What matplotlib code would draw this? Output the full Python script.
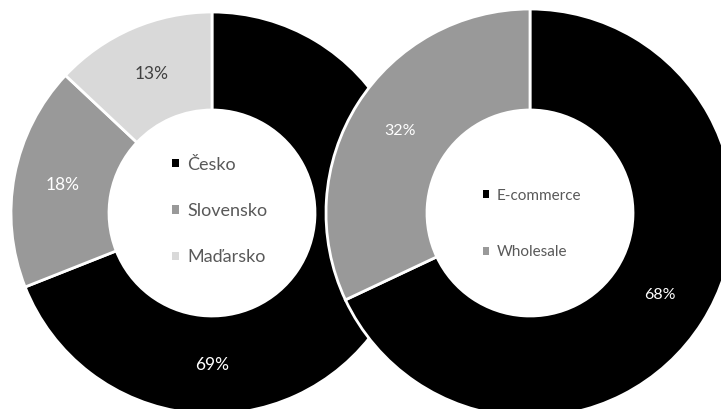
import matplotlib.pyplot as plt
import numpy as np

# data
countries = ["Česko", "Slovensko", "Maďarsko"]
country_share = [69, 18, 13]
country_colors = ["#000000", "#999999", "#d9d9d9"]
country_label_colors = ["white", "white", "#404040"]

channels = ["E-commerce", "Wholesale"]
channel_share = [68, 32]
channel_colors = ["#000000", "#999999"]
channel_label_colors = ["white", "white"]

plt.rcParams['font.family'] = ['Lato', 'DejaVu Sans']

fig = plt.figure(figsize=(7.21, 4.09), dpi=100)
ax = fig.add_axes([0, 0, 1, 1])


def donut(ax, values, colors, lcolors, center, r_out, r_in, fs, move=None):
    wedges, _ = ax.pie(values, colors=colors, startangle=90, counterclock=False,
                       center=center, radius=r_out, frame=True,
                       wedgeprops=dict(width=r_out - r_in, edgecolor='white', linewidth=2))
    r_mid = (r_out + r_in) / 2
    for i, (w, v) in enumerate(zip(wedges, values)):
        ang = np.deg2rad((w.theta1 + w.theta2) / 2)
        if move is not None and i in move:
            ang = np.deg2rad(move[i])
        ax.text(center[0] + r_mid * np.cos(ang), center[1] + r_mid * np.sin(ang),
                f"{v}%", ha='center', va='center', color=lcolors[i], fontsize=fs)
    return wedges


w1 = donut(ax, country_share, country_colors, country_label_colors,
           (212, 196), 201, 103, 12.5, move={0: -90})
w2 = donut(ax, channel_share, channel_colors, channel_label_colors,
           (530, 196), 204, 103, 11.5)

leg1 = ax.legend(w1, countries, loc='center left', bbox_to_anchor=(156, 198),
                 bbox_transform=ax.transData, frameon=False,
                 handlelength=0.35, handleheight=0.35, handletextpad=0.5,
                 labelspacing=1.68, prop=dict(size=13))
for h, t in zip(leg1.legend_handles, leg1.get_texts()):
    h.set_edgecolor('none')
    t.set_color('#595959')
ax.add_artist(leg1)

leg2 = ax.legend(w2, channels, loc='center left', bbox_to_anchor=(469, 185),
                 bbox_transform=ax.transData, frameon=False,
                 handlelength=0.4, handleheight=0.4, handletextpad=0.5,
                 labelspacing=2.8, prop=dict(size=11))
for h, t in zip(leg2.legend_handles, leg2.get_texts()):
    h.set_edgecolor('none')
    t.set_color('#595959')

ax.set_xlim(0, 721)
ax.set_ylim(0, 409)
ax.set_aspect('equal')
ax.axis('off')

fig.savefig("out.png", dpi=100)
